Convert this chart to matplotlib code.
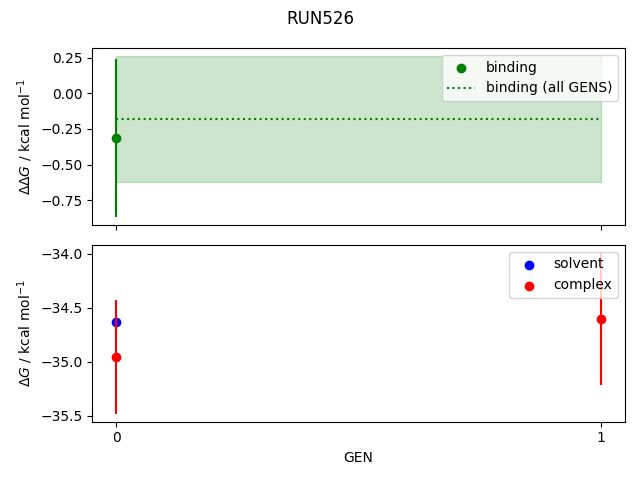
import matplotlib
matplotlib.use("Agg")
import matplotlib.pyplot as plt

# valores
gens = [0, 1]
binding_gens = [0]
binding = [-0.313]
binding_err = [0.555]
binding_all = -0.18
binding_all_err = 0.443

solvent_gens = [0]
solvent = [-34.63]
solvent_err = [0.0]

complex_gens = [0, 1]
complex_vals = [-34.955, -34.60]
complex_err = [0.525, 0.61]

fig, axs = plt.subplots(2, 1, sharex=True, figsize=(6.4, 4.8), dpi=100)
fig.suptitle('RUN526')

# panel superior: binding
ax = axs[0]
ax.scatter(binding_gens, binding, color='green', label='binding')
ax.errorbar(binding_gens, binding, yerr=binding_err, color='green', ls='none')
ax.hlines(binding_all, min(gens), max(gens), color='green', linestyle=':', label='binding (all GENS)')
ax.fill_between(gens, binding_all - binding_all_err, binding_all + binding_all_err, color='green', alpha=0.2)
ax.set_ylabel(r'$\Delta\Delta G$ / kcal mol$^{-1}$')
ax.legend(loc='upper right')

# panel inferior: solvent y complex
ax = axs[1]
ax.scatter(solvent_gens, solvent, color='blue', label='solvent')
ax.errorbar(solvent_gens, solvent, yerr=solvent_err, color='blue', ls='none')
ax.scatter(complex_gens, complex_vals, color='red', label='complex')
ax.errorbar(complex_gens, complex_vals, yerr=complex_err, color='red', ls='none')
ax.set_ylabel(r'$\Delta G$ / kcal mol$^{-1}$')
ax.set_xlabel('GEN')
ax.set_xticks(gens)
ax.legend(loc='upper right')

plt.tight_layout()
plt.savefig('out.png')
